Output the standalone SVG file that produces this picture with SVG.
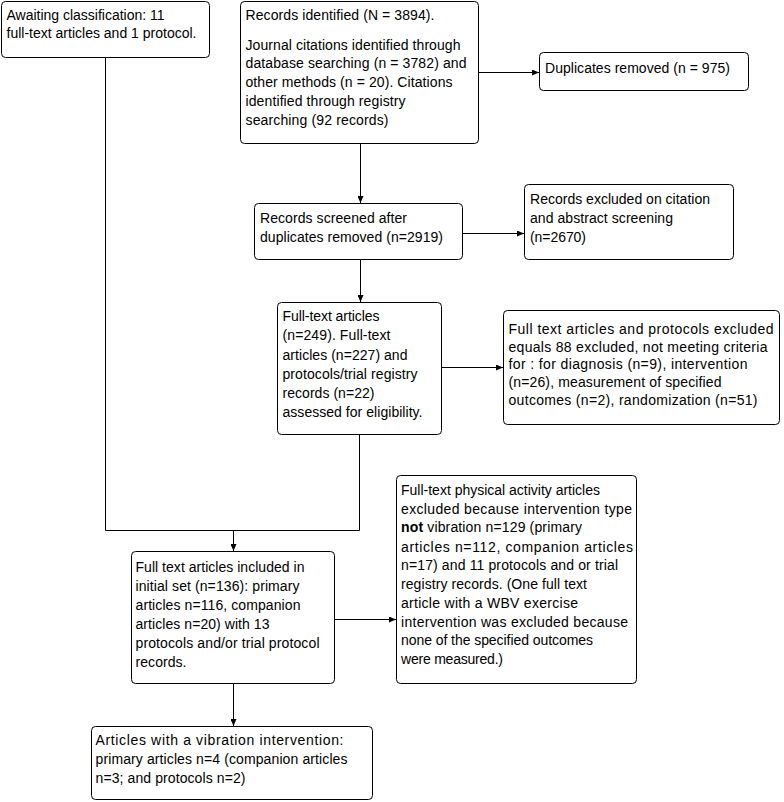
<svg xmlns="http://www.w3.org/2000/svg" width="784" height="802" viewBox="0 0 784 802">
<style>
.box{fill:#fff;stroke:#000;stroke-width:1}
.t{font-family:"Liberation Sans",Arial,sans-serif;font-size:14px;fill:#000}
.c{fill:none;stroke:#000;stroke-width:1}
</style>
<defs>
<marker id="ah" markerUnits="userSpaceOnUse" markerWidth="7" markerHeight="6" refX="7" refY="3" orient="auto">
<path d="M0,0 L7,3 L0,6 z" fill="#000"/>
</marker>
</defs>
<rect width="784" height="802" fill="#fff"/>
<g id="connectors">
<line class="c" x1="479" y1="72.5" x2="539" y2="72.5" marker-end="url(#ah)"/>
<line class="c" x1="360.5" y1="143" x2="360.5" y2="203" marker-end="url(#ah)"/>
<line class="c" x1="463" y1="233.5" x2="524" y2="233.5" marker-end="url(#ah)"/>
<line class="c" x1="360.5" y1="260" x2="360.5" y2="302" marker-end="url(#ah)"/>
<line class="c" x1="442" y1="367.5" x2="503" y2="367.5" marker-end="url(#ah)"/>
<polyline class="c" points="105.5,57 105.5,530.5 359.5,530.5 359.5,434"/>
<line class="c" x1="233.5" y1="530" x2="233.5" y2="551" marker-end="url(#ah)"/>
<line class="c" x1="334" y1="619.5" x2="396" y2="619.5" marker-end="url(#ah)"/>
<line class="c" x1="233.5" y1="683" x2="233.5" y2="726" marker-end="url(#ah)"/>
</g>
<g id="awaiting" class="t">
<rect class="box" x="1.5" y="1.5" width="208" height="56" rx="4"/>
<text x="6.5" y="20" textLength="158">Awaiting classification: 11</text>
<text x="6.5" y="38" textLength="190">full-text articles and 1 protocol.</text>
</g>
<g id="identified" class="t">
<rect class="box" x="240.5" y="1.5" width="238" height="142" rx="4"/>
<text x="245.5" y="20" textLength="189">Records identified (N = 3894).</text>
<text x="245.5" y="50" textLength="215">Journal citations identified through</text>
<text x="245.5" y="68" textLength="221">database searching (n = 3782) and</text>
<text x="245.5" y="87" textLength="207">other methods (n = 20). Citations</text>
<text x="245.5" y="106" textLength="160">identified through registry</text>
<text x="245.5" y="125" textLength="143">searching (92 records)</text>
</g>
<g id="duplicates" class="t">
<rect class="box" x="539.5" y="52.5" width="209" height="38" rx="4"/>
<text x="545" y="73" textLength="185">Duplicates removed (n = 975)</text>
</g>
<g id="screened" class="t">
<rect class="box" x="254.5" y="203.5" width="208" height="56" rx="4"/>
<text x="260" y="223" textLength="147">Records screened after</text>
<text x="260" y="242" textLength="183">duplicates removed (n=2919)</text>
</g>
<g id="excluded-screening" class="t">
<rect class="box" x="524.5" y="184.5" width="209" height="75" rx="4"/>
<text x="530" y="204" textLength="180">Records excluded on citation</text>
<text x="530" y="223" textLength="143">and abstract screening</text>
<text x="530" y="242" textLength="56">(n=2670)</text>
</g>
<g id="fulltext" class="t">
<rect class="box" x="277.5" y="302.5" width="164" height="132" rx="4"/>
<text x="282.5" y="321" textLength="97">Full-text articles</text>
<text x="282.5" y="340" textLength="108">(n=249). Full-text</text>
<text x="282.5" y="360" textLength="125">articles (n=227) and</text>
<text x="282.5" y="379" textLength="135">protocols/trial registry</text>
<text x="282.5" y="398" textLength="92">records (n=22)</text>
<text x="282.5" y="417" textLength="140">assessed for eligibility.</text>
</g>
<g id="excluded-fulltext" class="t">
<rect class="box" x="503.5" y="310.5" width="276" height="114" rx="4"/>
<text x="508.5" y="334" textLength="265">Full text articles and protocols excluded</text>
<text x="508.5" y="352" textLength="259">equals 88 excluded, not meeting criteria</text>
<text x="508.5" y="369" textLength="239">for : for diagnosis (n=9), intervention</text>
<text x="508.5" y="387" textLength="213">(n=26), measurement of specified</text>
<text x="508.5" y="405" textLength="249">outcomes (n=2), randomization (n=51)</text>
</g>
<g id="included" class="t">
<rect class="box" x="131.5" y="551.5" width="203" height="132" rx="4"/>
<text x="135.5" y="572" textLength="169">Full text articles included in</text>
<text x="135.5" y="591" textLength="164">initial set (n=136): primary</text>
<text x="135.5" y="610" textLength="165">articles n=116, companion</text>
<text x="135.5" y="629" textLength="134">articles n=20) with 13</text>
<text x="135.5" y="648" textLength="184">protocols and/or trial protocol</text>
<text x="135.5" y="667" textLength="51">records.</text>
</g>
<g id="excluded-type" class="t">
<rect class="box" x="396.5" y="475.5" width="240" height="208" rx="4"/>
<text x="401" y="495" textLength="199">Full-text physical activity articles</text>
<text x="401" y="514" textLength="231">excluded because intervention type</text>
<text x="401" y="532" textLength="181"><tspan font-weight="bold">not</tspan> vibration n=129 (primary</text>
<text x="401" y="552" textLength="232">articles n=112, companion articles</text>
<text x="401" y="570" textLength="217">n=17) and 11 protocols and or trial</text>
<text x="401" y="589" textLength="186">registry records. (One full text</text>
<text x="401" y="608" textLength="177">article with a WBV exercise</text>
<text x="401" y="627" textLength="227">intervention was excluded because</text>
<text x="401" y="645" textLength="192">none of the specified outcomes</text>
<text x="401" y="664" textLength="102">were measured.)</text>
</g>
<g id="vibration" class="t">
<rect class="box" x="91.5" y="726.5" width="281" height="73" rx="4"/>
<text x="95.5" y="745" textLength="248">Articles with a vibration intervention:</text>
<text x="95.5" y="764" textLength="252">primary articles n=4 (companion articles</text>
<text x="95.5" y="783" textLength="150">n=3; and protocols n=2)</text>
</g>
</svg>
